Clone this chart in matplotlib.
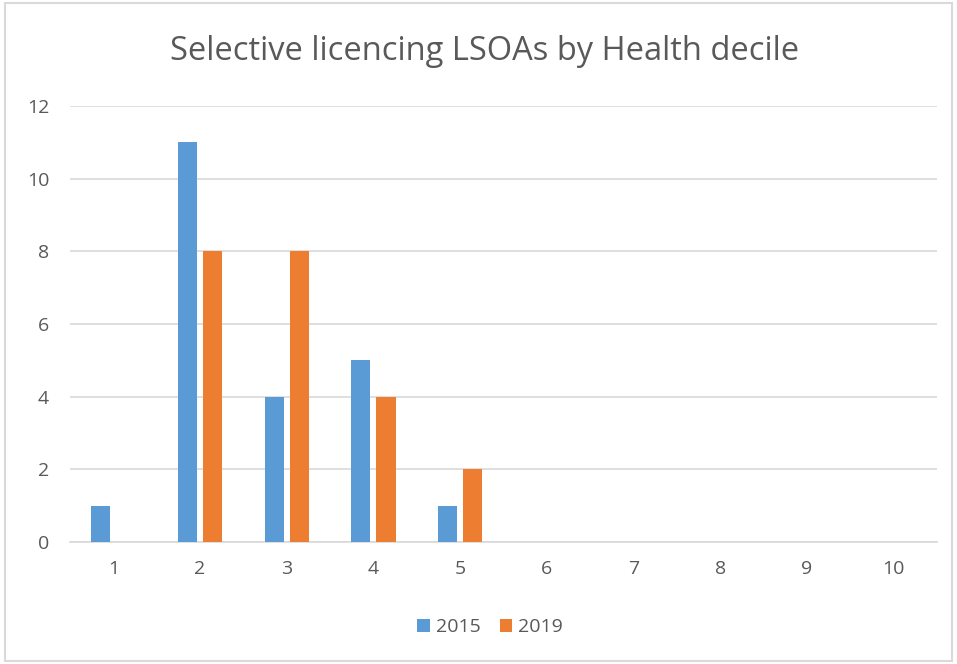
import matplotlib
matplotlib.use("Agg")
import matplotlib.pyplot as plt
import numpy as np
from matplotlib.patches import Rectangle

categories = ["1", "2", "3", "4", "5", "6", "7", "8", "9", "10"]
series_names = ["2015", "2019"]
values_2015 = [1, 11, 4, 5, 1, 0, 0, 0, 0, 0]
values_2019 = [0, 8, 8, 4, 2, 0, 0, 0, 0, 0]
yticks = [0, 2, 4, 6, 8, 10, 12]

plt.rcParams['font.family'] = ['Open Sans', 'DejaVu Sans']
text_color = "#595959"
grid_color = "#D9D9D9"

fig = plt.figure(figsize=(9.57, 6.64), dpi=100)
ax = fig.add_axes([70/957, 1-542/664, (937-70)/957, (542-106)/664])

x = np.arange(1, len(categories)+1)
w = 0.22
off = 0.145
ax.bar(x - off, values_2015, width=w, color="#5B9BD5", label=series_names[0], zorder=3)
ax.bar(x + off, values_2019, width=w, color="#ED7D31", label=series_names[1], zorder=3)

ax.set_xlim(0.5, 10.5)
ax.set_ylim(0, 12)
ax.set_yticks(yticks)
ax.set_xticks(x)
ax.set_xticklabels(categories)
ax.yaxis.grid(True, color=grid_color, linewidth=1.2, zorder=0)
for s in ["top", "right", "left"]:
    ax.spines[s].set_visible(False)
ax.spines["bottom"].set_color(grid_color)
ax.spines["bottom"].set_linewidth(1.2)
ax.tick_params(axis="both", length=0, labelsize=14, colors=text_color)
ax.tick_params(axis="x", pad=13)
ax.tick_params(axis="y", pad=15)

fig.text(0.506, 1-52/664, "Selective licencing LSOAs by Health decile",
         ha="center", va="center", fontsize=23.5, color=text_color)

leg = fig.legend(loc="center", bbox_to_anchor=(490/957, 1-627/664), ncol=2,
                 frameon=False, fontsize=14, handlelength=0.65, handleheight=0.65,
                 handletextpad=0.3, columnspacing=1.0)
for t in leg.get_texts():
    t.set_color(text_color)

fig.patches.append(Rectangle((0.005, 0.005), 0.99, 0.99, transform=fig.transFigure,
                             fill=False, edgecolor=grid_color, linewidth=1.5))

fig.savefig("out.png", dpi=100, facecolor="white")
